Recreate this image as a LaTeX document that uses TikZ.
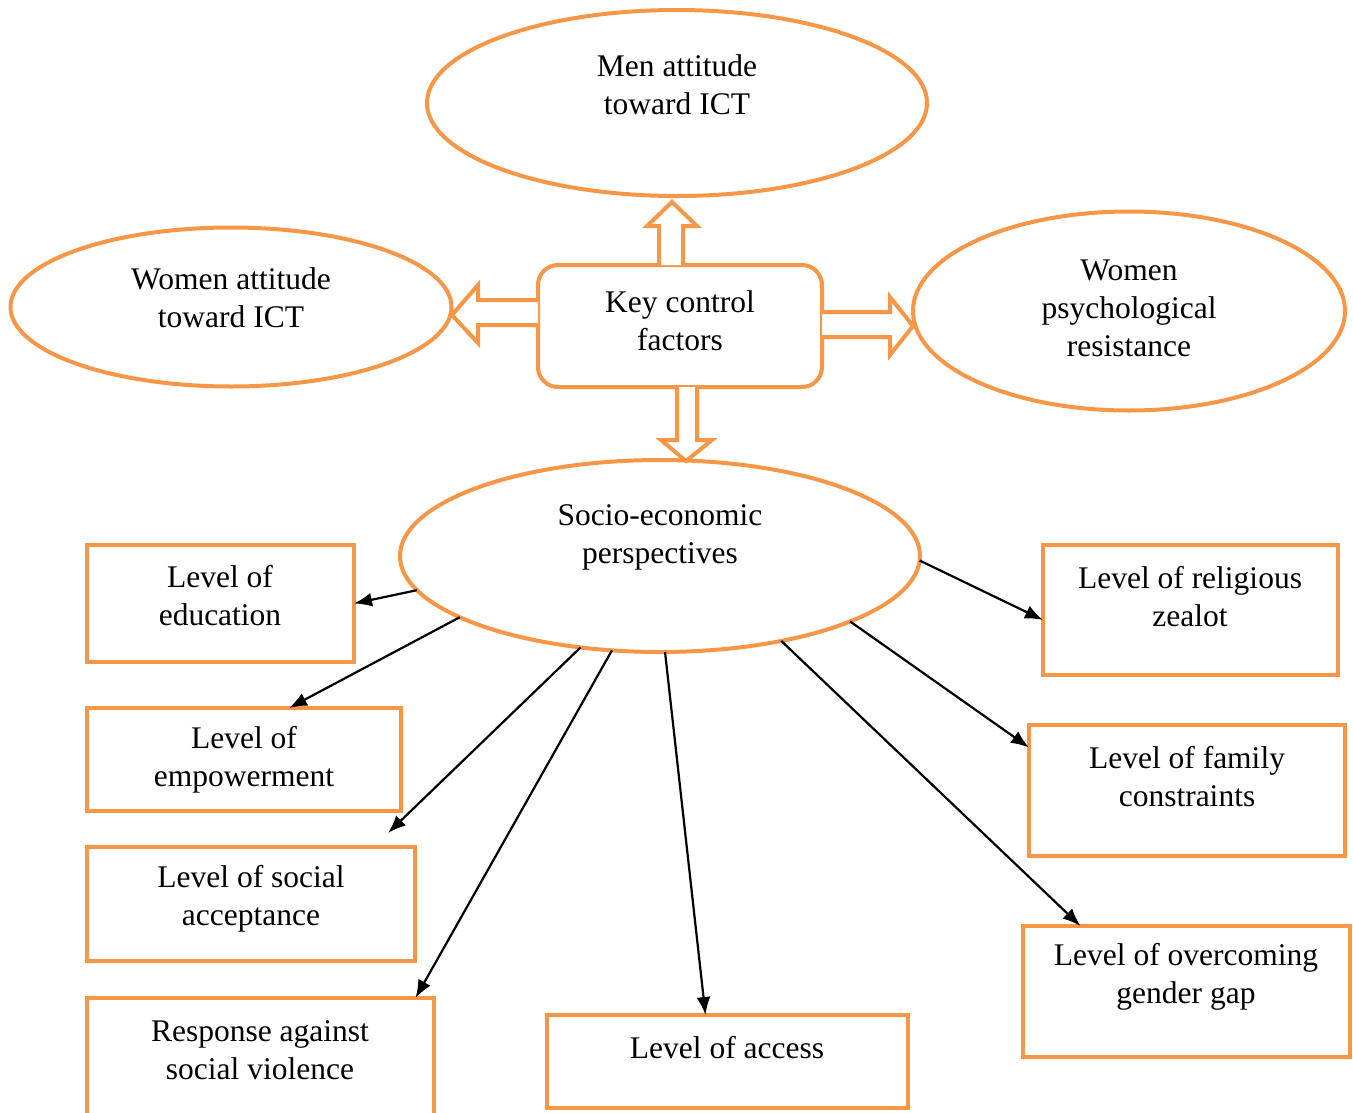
\documentclass[tikz,border=0pt]{standalone}
\usepackage{fontspec}
\setmainfont{Liberation Serif}
\usetikzlibrary{shapes.geometric,arrows.meta,calc}
\definecolor{orng}{HTML}{F79646}
\begin{document}
\begin{tikzpicture}[x=1pt,y=-1pt,
  every node/.style={inner sep=0pt,outer sep=0pt},
  ell/.style={ellipse,draw=orng,line width=4pt},
  bx/.style={rectangle,draw=orng,line width=4pt},
  rbx/.style={rectangle,rounded corners=20pt,draw=orng,line width=4pt},
  txt/.style={align=center,font=\fontsize{31.5}{38}\selectfont},
  blk/.style={draw=orng,fill=white,line width=4pt,line join=miter},
  conn/.style={black,line width=2.2pt,-{Latex[length=18pt,width=14pt]}}]
\useasboundingbox (0,0) rectangle (1353,1112);
% ellipses
\node[ell,minimum width=500pt,minimum height=186pt] (men) at (677,103) {};
\node[txt] at (677,85) {Men attitude\\toward ICT};
\node[ell,minimum width=441pt,minimum height=159pt] (watt) at (231,307) {};
\node[txt] at (231,298) {Women attitude\\toward ICT};
\node[ell,minimum width=432pt,minimum height=199pt] (wpsy) at (1129,311) {};
\node[txt] at (1129,308) {Women\\psychological\\resistance};
\node[ell,minimum width=520pt,minimum height=192pt] (socio) at (660,556) {};
\node[txt] at (660,537) {Socio-economic\\perspectives};
% key box
\node[rbx,minimum width=284pt,minimum height=122pt] (key) at (680,326) {};
\node[txt] at (680,321) {Key control\\factors};
% block arrows
\draw[blk] (key.north -| 659,0) -- (659,226) -- (647,226) -- (672,202) -- (697,226) -- (683,226) -- (key.north -| 683,0);
\draw[blk] (key.west |- 0,300) -- (478,300) -- (478,285) -- (452,315) -- (478,343) -- (478,325) -- (key.west |- 0,325);
\draw[blk] (key.east |- 0,312) -- (890,312) -- (890,297) -- (913,326) -- (890,355) -- (890,337) -- (key.east |- 0,337);
\draw[blk] (key.south -| 677,0) -- (677,440) -- (661,440) -- (686,461) -- (712,440) -- (697,440) -- (key.south -| 697,0);
% boxes
\node[bx,minimum width=267pt,minimum height=117pt] (edu) at (220.5,603.5) {};
\node[txt] at (220,596) {Level of\\education};
\node[bx,minimum width=314pt,minimum height=103pt] (emp) at (244,759.5) {};
\node[txt] at (244,760) {Level of\\empowerment};
\node[bx,minimum width=328pt,minimum height=114pt] (soc) at (251,904) {};
\node[txt] at (251,899) {Level of social\\acceptance};
\node[bx,minimum width=347pt,minimum height=120pt] (resp) at (260.5,1058) {};
\node[txt] at (260,1050) {Response against\\social violence};
\node[bx,minimum width=361pt,minimum height=93pt] (acc) at (727.5,1061.5) {};
\node[txt] at (727,1048) {Level of access};
\node[bx,minimum width=327pt,minimum height=131pt] (over) at (1186.5,991.5) {};
\node[txt] at (1186,977) {Level of overcoming\\gender gap};
\node[bx,minimum width=316pt,minimum height=131pt] (fam) at (1187,790.5) {};
\node[txt] at (1187,777) {Level of family\\constraints};
\node[bx,minimum width=295pt,minimum height=130pt] (rel) at (1190.5,610) {};
\node[txt] at (1190,597) {Level of religious\\zealot};
% connectors
\draw[conn] (socio.188) -- (edu.east);
\draw[conn] (socio.197) -- ([xshift=45pt]emp.north);
\draw[conn] (socio.229) -- ([xshift=137pt,yshift=14pt]soc.north);
\draw[conn] (socio.243) -- ([xshift=155pt]resp.north);
\draw[conn] (socio.273) -- ([xshift=-22pt]acc.north);
\draw[conn] (socio.325) -- ([xshift=-106pt]over.north);
\draw[conn] (socio.341) -- ([yshift=43pt]fam.west);
\draw[conn] (socio.359) -- ([yshift=-10pt]rel.west);
\end{tikzpicture}
\end{document}
